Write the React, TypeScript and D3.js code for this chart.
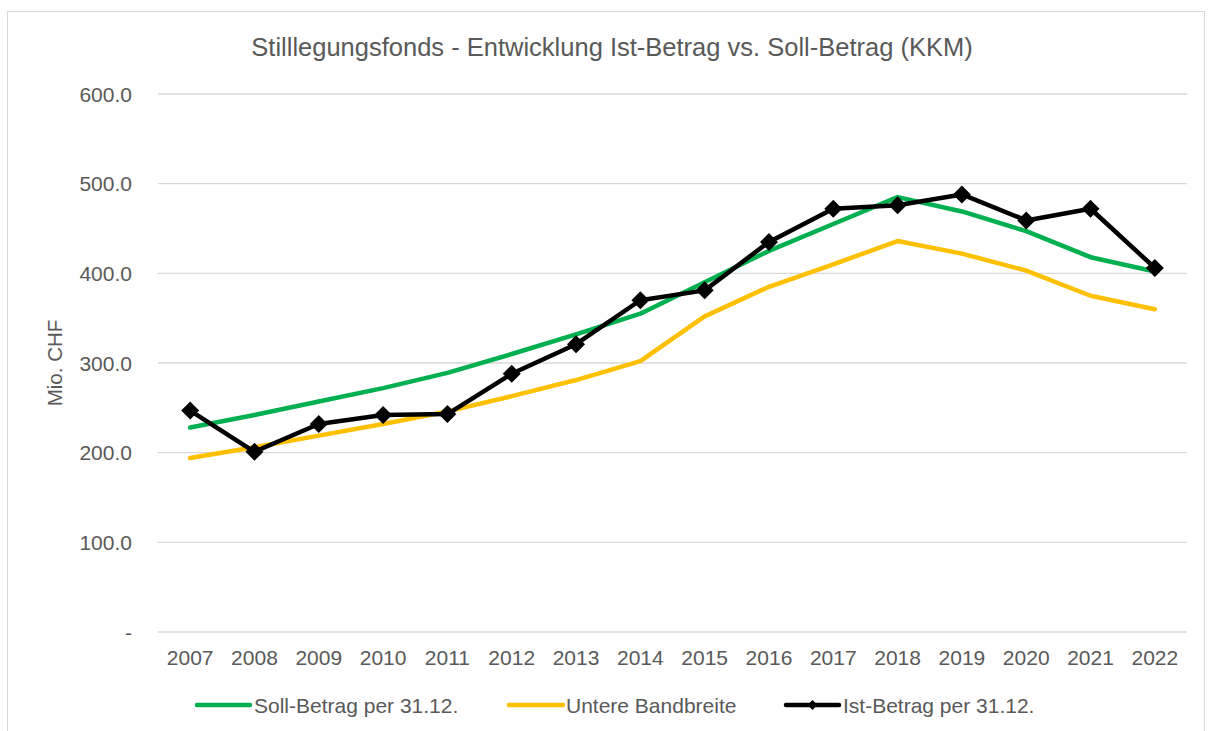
import React from "react";
import * as d3 from "d3";

const years = ["2007","2008","2009","2010","2011","2012","2013","2014","2015","2016","2017","2018","2019","2020","2021","2022"];
const soll = [228, 242, 257, 272, 289, 310, 332, 355, 390, 425, 455, 485, 469, 447, 418, 402];
const untere = [194, 206, 219, 232, 246, 263, 281, 302, 352, 385, 410, 436, 422, 403, 375, 360];
const ist = [247, 201, 232, 242, 243, 288, 321, 370, 381, 435, 472, 476, 488, 459, 472, 406];
const yTicks = [0, 100, 200, 300, 400, 500, 600];
const seriesNames = ["Soll-Betrag per 31.12.", "Untere Bandbreite", "Ist-Betrag per 31.12."];
const title = "Stilllegungsfonds - Entwicklung Ist-Betrag vs. Soll-Betrag (KKM)";

export default function App() {
  const W = 1213, H = 731;
  const left = 158, right = 1187, top = 94, bottom = 632;
  const x = d3.scaleBand<string>().domain(years).range([left, right]);
  const y = d3.scaleLinear().domain([0, 600]).range([bottom, top]);
  const cx = (i: number) => (x(years[i]) as number) + x.bandwidth() / 2;
  const line = d3.line<number>().x((_, i) => cx(i)).y((d) => y(d));
  const font = "'Liberation Sans', Arial, sans-serif";
  const textColor = "#595959";
  const green = "#00b050", yellow = "#ffc000", black = "#000000";
  const diamond = (px: number, py: number, r: number) =>
    `M${px},${py - r}L${px + r},${py}L${px},${py + r}L${px - r},${py}Z`;
  const fs = 21;

  return (
    <svg width={W} height={H} style={{ position: "absolute", left: 0, top: 0 }} fontFamily={font}>
      <rect x={7.5} y={11.5} width={1197} height={740} fill="#fff" stroke="#d9d9d9" strokeWidth={1} />
      <text x={612} y={56} textAnchor="middle" fontSize={25.5} fill={textColor}>{title}</text>
      {yTicks.map((t) => (
        <g key={t}>
          <line x1={left} x2={right} y1={y(t)} y2={y(t)} stroke="#d9d9d9" strokeWidth={1.3} />
          <text x={132} y={y(t) + 7.5} textAnchor="end" fontSize={fs} fill={textColor}>
            {t === 0 ? "-" : d3.format(".1f")(t)}
          </text>
        </g>
      ))}
      {years.map((yr, i) => (
        <text key={yr} x={cx(i)} y={665} textAnchor="middle" fontSize={fs} fill={textColor}>{yr}</text>
      ))}
      <text transform={`translate(62,${y(300)}) rotate(-90)`} textAnchor="middle" fontSize={20.5} fill={textColor}>Mio. CHF</text>
      <path d={line(soll) || ""} fill="none" stroke={green} strokeWidth={4.5} strokeLinecap="round" strokeLinejoin="round" />
      <path d={line(untere) || ""} fill="none" stroke={yellow} strokeWidth={4.5} strokeLinecap="round" strokeLinejoin="round" />
      <path d={line(ist) || ""} fill="none" stroke={black} strokeWidth={4.5} strokeLinecap="round" strokeLinejoin="round" />
      {ist.map((v, i) => (
        <path key={i} d={diamond(cx(i), y(v), 9)} fill={black} />
      ))}
      <g fontSize={fs} fill={textColor}>
        <line x1={197} x2={250} y1={705} y2={705} stroke={green} strokeWidth={4.5} strokeLinecap="round" />
        <text x={254} y={712.5}>{seriesNames[0]}</text>
        <line x1={509} x2={563} y1={705} y2={705} stroke={yellow} strokeWidth={4.5} strokeLinecap="round" />
        <text x={566} y={712.5}>{seriesNames[1]}</text>
        <line x1={786} x2={839} y1={705} y2={705} stroke={black} strokeWidth={4.5} strokeLinecap="round" />
        <path d={diamond(812.5, 705, 5)} fill={black} />
        <text x={843} y={712.5}>{seriesNames[2]}</text>
      </g>
    </svg>
  );
}
